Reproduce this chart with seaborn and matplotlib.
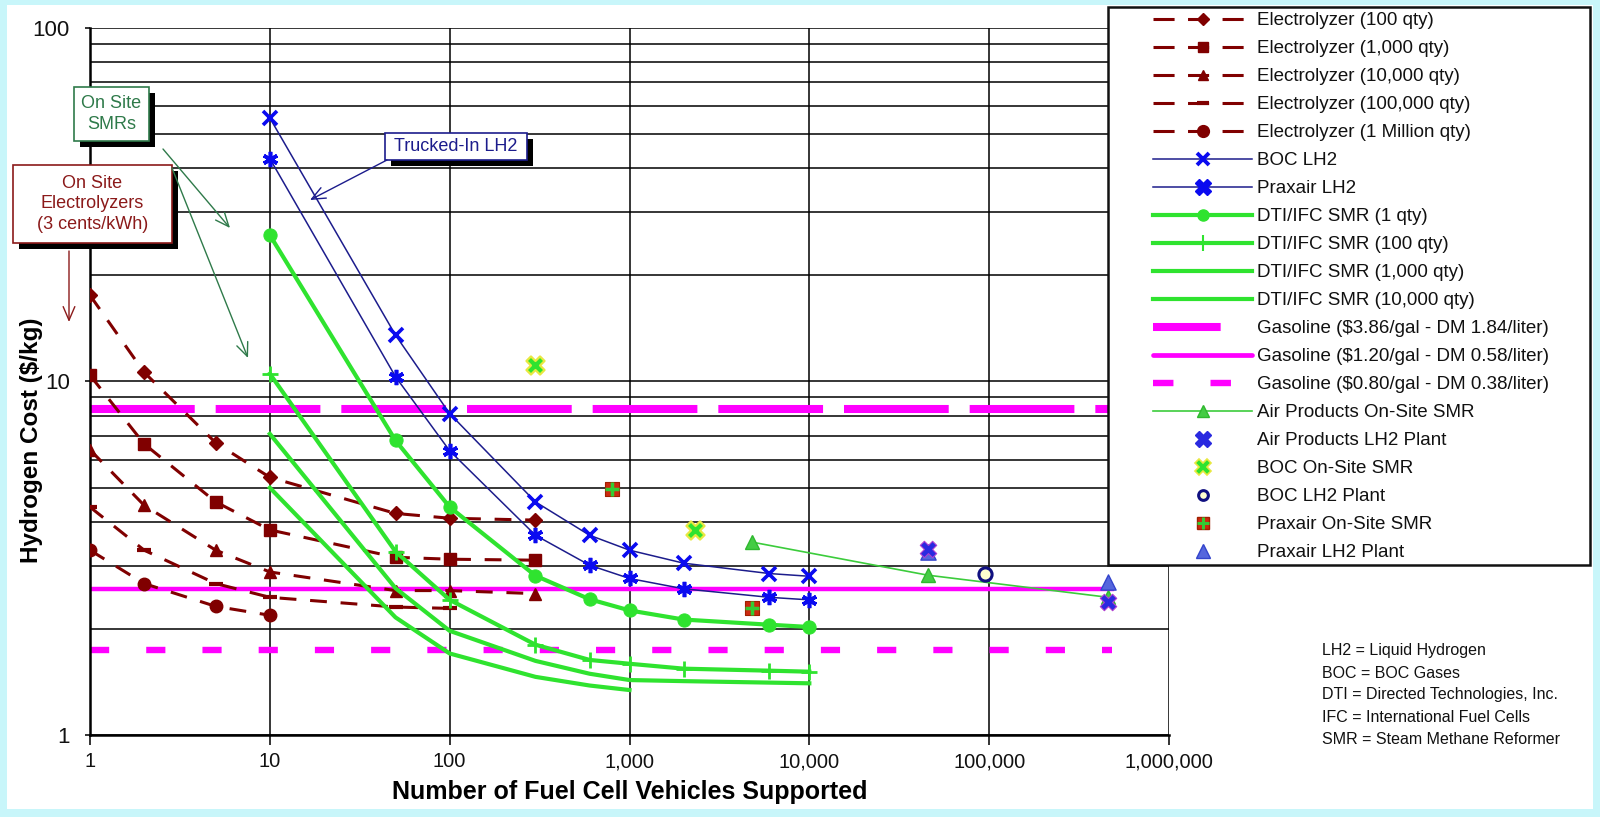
import matplotlib
matplotlib.use("Agg")
import matplotlib.pyplot as plt
import seaborn as sns
from matplotlib.lines import Line2D
from matplotlib.patches import Rectangle, FancyArrowPatch
from matplotlib.ticker import FixedLocator, NullLocator, NullFormatter
from matplotlib.legend_handler import HandlerTuple

# ---------------- data ----------------
elec_x = [1, 2, 5, 10, 50, 100, 300]
elec_100 = [17.5, 10.6, 6.7, 5.35, 4.23, 4.1, 4.05]
elec_1000 = [10.4, 6.65, 4.56, 3.8, 3.18, 3.14, 3.12]
elec_10000 = [6.4, 4.46, 3.33, 2.89, 2.56, 2.56, 2.51]
elec_100000_x = [1, 2, 5, 10, 50, 100]
elec_100000 = [4.41, 3.33, 2.68, 2.45, 2.30, 2.28]
elec_1m_x = [1, 2, 5, 10]
elec_1m = [3.33, 2.68, 2.31, 2.18]

lh2_x = [10, 50, 100, 300, 600, 1000, 2000, 6000, 10000]
boc_lh2 = [55.5, 13.5, 8.1, 4.56, 3.67, 3.33, 3.06, 2.86, 2.81]
praxair_lh2 = [42.6, 10.3, 6.36, 3.67, 3.02, 2.77, 2.59, 2.45, 2.41]

smr_x = [10, 50, 100, 300, 600, 1000, 2000, 6000, 10000]
smr_1 = [25.9, 6.8, 4.41, 2.82, 2.42, 2.25, 2.12, 2.05, 2.02]
smr_100 = [10.5, 3.3, 2.41, 1.80, 1.63, 1.59, 1.54, 1.52, 1.51]
smr_1000_x = [10, 50, 100, 300, 600, 1000, 2000, 10000]
smr_1000 = [7.1, 2.6, 1.97, 1.62, 1.49, 1.43, 1.42, 1.40]
smr_10000_x = [10, 50, 100, 300, 600, 1000]
smr_10000 = [5.0, 2.15, 1.70, 1.46, 1.38, 1.34]

gas_x = [1, 480000]
gas_386 = [8.37, 8.37]
gas_120 = [2.59, 2.59]
gas_080 = [1.74, 1.74]

ap_onsite_x = [4800, 45600, 460000]
ap_onsite = [3.51, 2.83, 2.45]
ap_lh2_x = [45600, 460000]
ap_lh2 = [3.35, 2.38]
boc_onsite_x = [300, 2300]
boc_onsite = [11.1, 3.79]
boc_plant_x = [95000]
boc_plant = [2.86]
prax_onsite_x = [800, 4800]
prax_onsite = [4.97, 2.28]
prax_plant_x = [45600, 460000]
prax_plant = [3.30, 2.71]

x_ticks = [1, 10, 100, 1000, 10000, 100000, 1000000]
x_tick_labels = ["1", "10", "100", "1,000", "10,000", "100,000", "1,000,000"]
y_ticks = [1, 10, 100]
y_tick_labels = ["1", "10", "100"]
y_minor = [2, 3, 4, 5, 6, 7, 8, 9, 20, 30, 40, 50, 60, 70, 80, 90]

legend_labels = [
    "Electrolyzer (100 qty)", "Electrolyzer (1,000 qty)", "Electrolyzer (10,000 qty)",
    "Electrolyzer (100,000 qty)", "Electrolyzer (1 Million qty)", "BOC LH2", "Praxair LH2",
    "DTI/IFC SMR (1 qty)", "DTI/IFC SMR (100 qty)", "DTI/IFC SMR (1,000 qty)",
    "DTI/IFC SMR (10,000 qty)", "Gasoline ($3.86/gal - DM 1.84/liter)",
    "Gasoline ($1.20/gal - DM 0.58/liter)", "Gasoline ($0.80/gal - DM 0.38/liter)",
    "Air Products On-Site SMR", "Air Products LH2 Plant", "BOC On-Site SMR",
    "BOC LH2 Plant", "Praxair On-Site SMR", "Praxair LH2 Plant",
]
notes = ["LH2 = Liquid Hydrogen", "BOC = BOC Gases", "DTI = Directed Technologies, Inc.",
         "IFC = International Fuel Cells", "SMR = Steam Methane Reformer"]

# ---------------- style ----------------
plt.rcParams['font.family'] = ['Liberation Sans', 'DejaVu Sans']
W, H = 1600, 817
DR = '#800000'
NAVY = '#1c1c8c'
BLUE = '#0a0af0'
GREEN = '#2fe32f'
MAG = '#ff00ff'
APG = '#3ccc3c'


def P(x, y):
    return (x / W, 1 - y / H)


fig = plt.figure(figsize=(16, 8.17), dpi=100, facecolor='#c8f6fa')
fig.add_artist(Rectangle(P(7, 809), (1593 - 7) / W, (809 - 5) / H, transform=fig.transFigure,
                         facecolor='white', edgecolor='none', zorder=-5))

ax = fig.add_axes([90 / W, 1 - 735 / H, (1169 - 90) / W, (735 - 27.5) / H])
ax.set_xscale('log')
ax.set_yscale('log')
ax.set_xlim(1, 1e6)
ax.set_ylim(1, 100)
ax.set_facecolor('white')


def line(x, y, **kw):
    sns.lineplot(x=list(x), y=list(y), ax=ax, estimator=None, sort=False,
                 legend=False, **kw)


# gasoline
line(gas_x, gas_386, color=MAG, linewidth=5.8, linestyle=(0, (13, 2.6)), zorder=2)
line(gas_x, gas_120, color=MAG, linewidth=3.2, linestyle='-', zorder=2)
line(gas_x, gas_080, color=MAG, linewidth=4.6, linestyle=(0, (3.0, 5.8)), zorder=2)

# electrolyzers
eks = dict(color=DR, linewidth=2.2, linestyle=(0, (5.5, 4.5)), markerfacecolor=DR,
           markeredgecolor=DR, markeredgewidth=1, zorder=3)
line(elec_x, elec_100, marker='D', markersize=7.5, **eks)
line(elec_x, elec_1000, marker='s', markersize=8, **eks)
line(elec_x, elec_10000, marker='^', markersize=8, **eks)
eks2 = dict(eks)
eks2['markeredgewidth'] = 3
line(elec_100000_x, elec_100000, marker='_', markersize=10, **eks2)
line(elec_1m_x, elec_1m, marker='o', markersize=9, **eks)

# SMR curves
gks = dict(color=GREEN, linewidth=3, zorder=3.5)
line(smr_x, smr_1, marker='o', markersize=9.5, markerfacecolor=GREEN, markeredgecolor=GREEN, **gks)
line(smr_x, smr_100, marker='+', markersize=12, markeredgewidth=2, markeredgecolor=GREEN, **gks)
line(smr_1000_x, smr_1000, **gks)
line(smr_10000_x, smr_10000, **gks)

# LH2 curves
line(lh2_x, boc_lh2, color=NAVY, linewidth=1.1, marker='x', markersize=10,
     markeredgecolor=BLUE, markeredgewidth=2.6, zorder=4)
line(lh2_x, praxair_lh2, color=NAVY, linewidth=1.1, marker=(6, 2, 0), markersize=11,
     markeredgecolor=BLUE, markeredgewidth=2.6, zorder=4)

# Air Products on-site
line(ap_onsite_x, ap_onsite, color=APG, linewidth=1.2, marker='^', markersize=10,
     markerfacecolor='#44cc44', markeredgecolor='#2fb82f', markeredgewidth=1, zorder=4)

# single-point series
sns.scatterplot(x=prax_plant_x, y=prax_plant, ax=ax, marker='^', s=120, color='#5566dd',
                edgecolor='#3344cc', linewidth=1, zorder=5, legend=False)
sns.scatterplot(x=ap_lh2_x, y=ap_lh2, ax=ax, marker='X', s=140, color='#2a2ae0',
                edgecolor='#b040d0', linewidth=0.8, zorder=6, legend=False)
sns.scatterplot(x=boc_onsite_x, y=boc_onsite, ax=ax, marker='X', s=170, color=GREEN,
                edgecolor='#e8e840', linewidth=1.6, zorder=6, legend=False)
sns.scatterplot(x=boc_plant_x, y=boc_plant, ax=ax, marker='o', s=90, color='#ffffd0',
                edgecolor='#101080', linewidth=2.2, zorder=6, legend=False)
sns.scatterplot(x=prax_onsite_x, y=prax_onsite, ax=ax, marker='s', s=110, color='#cc2a10',
                edgecolor='#a02000', linewidth=0.8, zorder=6, legend=False)
sns.scatterplot(x=prax_onsite_x, y=prax_onsite, ax=ax, marker='+', s=110, color='#33cc33',
                linewidth=2.5, zorder=7, legend=False)

# axes styling
ax.xaxis.set_major_locator(FixedLocator(x_ticks))
ax.xaxis.set_minor_locator(NullLocator())
ax.set_xticklabels(x_tick_labels, fontsize=14.5,
                   fontfamily=['Liberation Sans Narrow', 'Liberation Sans'])
ax.yaxis.set_major_locator(FixedLocator(y_ticks))
ax.yaxis.set_minor_locator(FixedLocator(y_minor))
ax.yaxis.set_minor_formatter(NullFormatter())
ax.set_yticklabels(y_tick_labels, fontsize=16)
ax.tick_params(axis='x', which='major', direction='out', length=7, width=1.2, pad=5.5,
               colors='#111111')
ax.tick_params(axis='y', which='major', direction='out', length=3.5, width=1.2, pad=11,
               colors='#111111')
ax.tick_params(axis='y', which='minor', length=0)
ax.set_axisbelow(True)
ax.grid(which='both', axis='y', color='black', linewidth=1.1)
ax.grid(which='major', axis='x', color='black', linewidth=1.1)
for s in ['top', 'right']:
    ax.spines[s].set_visible(False)
for s in ['left', 'bottom']:
    ax.spines[s].set_color('black')
    ax.spines[s].set_linewidth(1.8)

ax.set_xlabel('Number of Fuel Cell Vehicles Supported', fontsize=18, fontweight='bold')
ax.set_ylabel('Hydrogen Cost ($/kg)', fontsize=17.5, fontweight='bold')
ax.xaxis.set_label_coords(0.5, -0.0636)
ax.yaxis.set_label_coords(-0.044, 0.416)

# ---------------- legend ----------------
fig.add_artist(Rectangle(P(1108, 565), (1590 - 1108) / W, (565 - 7) / H,
                         transform=fig.transFigure, facecolor='white',
                         edgecolor='#111111', linewidth=1.8, zorder=4))
eleg = dict(color=DR, lw=2.2, ls=(0, (6.9, 4.4)), mfc=DR, mec=DR)
proxies = [
    Line2D([], [], marker='D', ms=6.5, **eleg),
    Line2D([], [], marker='s', ms=7, **eleg),
    Line2D([], [], marker='^', ms=7, **eleg),
    Line2D([], [], marker='_', ms=9, mew=3, **eleg),
    Line2D([], [], marker='o', ms=8.5, **eleg),
    Line2D([], [], color=NAVY, lw=1.1, marker='x', ms=9, mec=BLUE, mew=2.8),
    Line2D([], [], color=NAVY, lw=1.1, marker='X', ms=11, mfc=BLUE, mec=BLUE),
    Line2D([], [], color=GREEN, lw=3, marker='o', ms=8, mfc=GREEN, mec=GREEN),
    Line2D([], [], color=GREEN, lw=3, marker='|', ms=11, mew=1.5, mec=GREEN),
    Line2D([], [], color=GREEN, lw=3),
    Line2D([], [], color=GREEN, lw=3),
    Line2D([], [], color=MAG, lw=5.8, ls=(0, (8.4, 20))),
    Line2D([], [], color=MAG, lw=3.4, solid_capstyle='round'),
    Line2D([], [], color=MAG, lw=4.6, ls=(0, (3.2, 5.8))),
    Line2D([], [], color=APG, lw=1.2, marker='^', ms=9, mfc='#44cc44', mec='#2fb82f'),
    Line2D([], [], ls='None', marker='X', ms=11, mfc='#2a2ae0', mec='#2a2ae0'),
    Line2D([], [], ls='None', marker='X', ms=11, mfc=GREEN, mec='#e8e840', mew=1.2),
    Line2D([], [], ls='None', marker='o', ms=7, mfc='#ffffd0', mec='#101080', mew=2.2),
    (Line2D([], [], ls='None', marker='s', ms=8, mfc='#cc2a10', mec='#a02000'),
     Line2D([], [], ls='None', marker='+', ms=8, mec='#33cc33', mew=2.2)),
    Line2D([], [], ls='None', marker='^', ms=10, mfc='#5566dd', mec='#3344cc'),
]
leg = fig.legend(proxies, legend_labels, loc='upper left', bbox_to_anchor=P(1153, 12.0),
                 frameon=False, fontsize=13.5, handlelength=5.28, handletextpad=0.27,
                 labelspacing=0.58, borderpad=0, borderaxespad=0, numpoints=1,
                 labelcolor='#111111', handler_map={tuple: HandlerTuple(ndivide=1)})
leg.set_zorder(5)

# ---------------- notes ----------------
for i, t in enumerate(notes):
    fig.text(*P(1322, 651 + 22 * i), t, fontsize=11.5, va='center', ha='left',
             color='#111111', zorder=6)


# ---------------- annotation boxes ----------------
def box(x0, y0, x1, y1, text, color):
    fig.add_artist(Rectangle(P(x0 + 6, y1 + 6), (x1 - x0) / W, (y1 - y0) / H,
                             transform=fig.transFigure, facecolor='black',
                             edgecolor='none', zorder=8))
    fig.add_artist(Rectangle(P(x0, y1), (x1 - x0) / W, (y1 - y0) / H,
                             transform=fig.transFigure, facecolor='white',
                             edgecolor=color, linewidth=1.2, zorder=9))
    fig.text(*P((x0 + x1) / 2, (y0 + y1) / 2), text, ha='center', va='center',
             color=color, fontsize=13, linespacing=1.25, zorder=10)


def arrow(a, b, color):
    fig.add_artist(FancyArrowPatch(P(*a), P(*b), transform=fig.transFigure,
                                   arrowstyle='->,head_length=0.7,head_width=0.3',
                                   mutation_scale=14, color=color, linewidth=1.0,
                                   shrinkA=0, shrinkB=0, zorder=9))


SMRC = '#2f7a4a'
ELC = '#8b1a1a'
box(74, 87, 149, 141, 'On Site\nSMRs', SMRC)
box(13, 165, 172, 243, 'On Site\nElectrolyzers\n(3 cents/kWh)', ELC)
box(385, 133, 527, 160, 'Trucked-In LH2', NAVY)
arrow((163, 149), (230, 228), SMRC)
arrow((172, 168), (248, 358), SMRC)
arrow((69, 251), (69, 322), ELC)
arrow((387, 160), (310, 200), NAVY)

fig.savefig('out.png', dpi=100, facecolor=fig.get_facecolor())
